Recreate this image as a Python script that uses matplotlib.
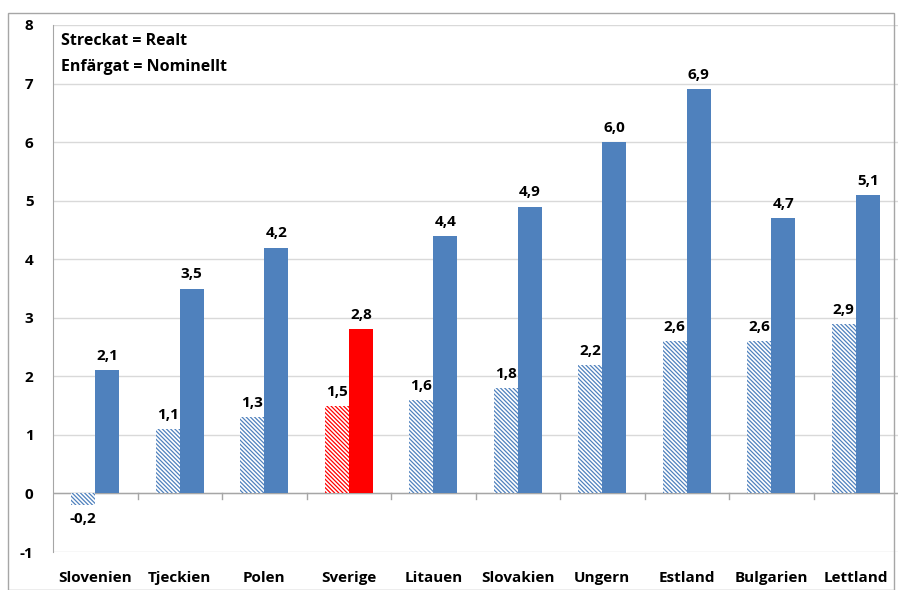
import matplotlib as mpl
import matplotlib.pyplot as plt
import numpy as np

# data
countries = ['Slovenien', 'Tjeckien', 'Polen', 'Sverige', 'Litauen',
             'Slovakien', 'Ungern', 'Estland', 'Bulgarien', 'Lettland']
real = [-0.2, 1.1, 1.3, 1.5, 1.6, 1.8, 2.2, 2.6, 2.6, 2.9]
nominal = [2.1, 3.5, 4.2, 2.8, 4.4, 4.9, 6.0, 6.9, 4.7, 5.1]
highlight = 'Sverige'

mpl.rcParams['font.family'] = ['Open Sans', 'DejaVu Sans']
mpl.rcParams['font.weight'] = 'bold'
mpl.rcParams['hatch.linewidth'] = 0.9
mpl.rcParams['axes.unicode_minus'] = False

blue = '#4F81BD'
red = '#FF0000'

fig = plt.figure(figsize=(9.04, 5.9), dpi=100)
ax = fig.add_axes([53/904, 1 - 552/590, 845/904, (552-25)/590])

x = np.arange(len(countries))
w = 0.285
for i, c in enumerate(countries):
    col = red if c == highlight else blue
    mpl.rcParams['hatch.color'] = col
    ax.bar(x[i] - w/2, real[i], w, facecolor='white', edgecolor=col,
           hatch='\\' * 8, linewidth=0, zorder=3)
    ax.bar(x[i] + w/2, nominal[i], w, color=col, zorder=3)

    lab_r = f'{real[i]:.1f}'.replace('.', ',')
    if real[i] >= 0:
        ax.text(x[i] - w/2, real[i] + 0.12, lab_r, ha='center', va='bottom', fontsize=11)
    else:
        ax.text(x[i] - w/2, real[i] - 0.12, lab_r, ha='center', va='top', fontsize=11)
    ax.text(x[i] + w/2, nominal[i] + 0.12, f'{nominal[i]:.1f}'.replace('.', ','),
            ha='center', va='bottom', fontsize=11)

ax.set_xlim(-0.5, len(countries) - 0.5)
ax.set_ylim(-1, 8)
ax.set_yticks(range(-1, 9))
ax.yaxis.grid(True, color='#D9D9D9', linewidth=1, zorder=0)
ax.tick_params(axis='y', length=0, labelsize=11, pad=14)
ax.set_xticks(x)
ax.set_xticklabels(countries, fontsize=11)
ax.tick_params(axis='x', length=0, pad=14)
# small ticks between categories on the zero line
for b in x[1:] - 0.5:
    ax.plot([b, b], [0, -0.1], color='#A6A6A6', linewidth=1, zorder=2, clip_on=False)
ax.axhline(0, color='#A6A6A6', linewidth=1, zorder=2)

for s in ['top', 'right', 'bottom']:
    ax.spines[s].set_visible(False)
ax.spines['left'].set_color('#A6A6A6')

ax.text(0.01, 0.985, 'Streckat = Realt\nEnfärgat = Nominellt', transform=ax.transAxes,
        ha='left', va='top', fontsize=11.5, linespacing=1.85)

# outer chart frame
fig.patches.append(mpl.patches.Rectangle((8/904, 0), 886/904, 1 - 13/590,
                                         transform=fig.transFigure, fill=False,
                                         edgecolor='#A6A6A6', linewidth=1))

fig.savefig('out.png', dpi=100)
